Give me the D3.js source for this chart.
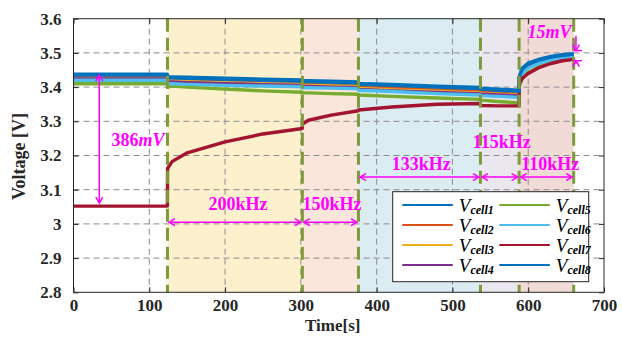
<!DOCTYPE html>
<html>
<head>
<meta charset="utf-8">
<script src="https://cdn.jsdelivr.net/npm/d3@7"></script>
<style>
  html, body { margin: 0; padding: 0; background: #fff; }
  svg { display: block; }
  text { font-family: "Liberation Serif", "Times New Roman", serif; }
</style>
</head>
<body>
<svg id="chart" width="622" height="339"></svg>
<script>
// ---- data -------------------------------------------------------------
const timeS = [0, 123.9, 124.1, 130, 150, 200, 250, 301.9, 302.1, 310, 340, 375.9, 376.1, 420, 480, 536.9, 537.1, 560, 587.9, 588.1, 592, 600, 615, 630, 645, 660];

const vCell1 = [3.438, 3.438, 3.430, 3.430, 3.429, 3.426, 3.423, 3.421, 3.419, 3.419, 3.417, 3.415, 3.411, 3.408, 3.403, 3.399, 3.397, 3.394, 3.391, 3.430, 3.455, 3.470, 3.482, 3.490, 3.495, 3.498];
const vCell2 = [3.429, 3.429, 3.423, 3.423, 3.421, 3.418, 3.415, 3.413, 3.410, 3.410, 3.408, 3.406, 3.401, 3.397, 3.392, 3.387, 3.386, 3.384, 3.381, 3.424, 3.449, 3.464, 3.476, 3.484, 3.489, 3.492];
const vCell3 = [3.426, 3.426, 3.418, 3.418, 3.416, 3.413, 3.410, 3.408, 3.405, 3.405, 3.403, 3.401, 3.396, 3.392, 3.387, 3.382, 3.381, 3.379, 3.376, 3.420, 3.446, 3.461, 3.474, 3.482, 3.487, 3.490];
const vCell4 = [3.424, 3.424, 3.415, 3.415, 3.413, 3.410, 3.407, 3.405, 3.402, 3.402, 3.400, 3.398, 3.393, 3.389, 3.384, 3.380, 3.379, 3.377, 3.374, 3.418, 3.444, 3.459, 3.472, 3.481, 3.486, 3.489];
const vCell5 = [3.410, 3.410, 3.400, 3.403, 3.400, 3.394, 3.389, 3.385, 3.383, 3.383, 3.381, 3.379, 3.377, 3.373, 3.368, 3.364, 3.362, 3.358, 3.354, 3.400, 3.425, 3.443, 3.460, 3.471, 3.478, 3.482];
const vCell6 = [3.420, 3.420, 3.410, 3.410, 3.408, 3.405, 3.403, 3.401, 3.398, 3.398, 3.397, 3.395, 3.391, 3.387, 3.381, 3.377, 3.375, 3.373, 3.370, 3.414, 3.440, 3.456, 3.470, 3.479, 3.484, 3.487];
const vCell7 = [3.052, 3.052, 3.162, 3.182, 3.208, 3.240, 3.263, 3.279, 3.292, 3.303, 3.318, 3.331, 3.333, 3.342, 3.350, 3.352, 3.346, 3.345, 3.345, 3.410, 3.425, 3.440, 3.458, 3.469, 3.477, 3.481];
const vCell8 = [3.435, 3.435, 3.427, 3.427, 3.426, 3.423, 3.420, 3.418, 3.416, 3.416, 3.414, 3.412, 3.408, 3.405, 3.400, 3.396, 3.394, 3.391, 3.388, 3.428, 3.453, 3.468, 3.480, 3.488, 3.493, 3.496];

const seriesNames  = ["cell1", "cell2", "cell3", "cell4", "cell5", "cell6", "cell7", "cell8"];
const seriesValues = [vCell1, vCell2, vCell3, vCell4, vCell5, vCell6, vCell7, vCell8];
const seriesColors = ["#0072BD", "#D95319", "#EDB120", "#7E2F8E", "#77AC30", "#4DBEEE", "#A2142F", "#0072BD"];

// switching-frequency stages (boundaries in seconds) and their labels
const stageEdges  = [124, 302, 376, 537, 588, 660];
const stageLabels = ["200kHz", "150kHz", "133kHz", "115kHz", "110kHz"];
const stageFills  = ["#fdf0cc", "#fae6da", "#dbecf3", "#ebe7ef", "#f1dbd7"];
// label anchor [time, voltage] and arrow level per stage
const stageLabelPos = [[217, 3.040], [341, 3.040], [459, 3.157], [565, 3.222], [629, 3.157]];
const stageArrowV   = [3.005, 3.005, 3.137, 3.137, 3.137];

const xTicks = [0, 100, 200, 300, 400, 500, 600, 700];
const yTicks = [2.8, 2.9, 3.0, 3.1, 3.2, 3.3, 3.4, 3.5, 3.6];
const yTickLabels = ["2.8", "2.9", "3", "3.1", "3.2", "3.3", "3.4", "3.5", "3.6"];

// ---- layout -----------------------------------------------------------
const svg = d3.select("#chart");
const L = 73.5, R = 604, T = 18.7, B = 292.3;
const x = d3.scaleLinear().domain([0, 700]).range([L, R]);
const y = d3.scaleLinear().domain([2.8, 3.6]).range([B, T]);
const MAG = "#ff00ff";
const SERIF = "Liberation Serif, Times New Roman, serif";

// stage shading
const bands = svg.append("g");
stageLabels.forEach((lab, i) => {
  bands.append("rect")
    .attr("x", x(stageEdges[i])).attr("y", T)
    .attr("width", x(stageEdges[i + 1]) - x(stageEdges[i]))
    .attr("height", B - T)
    .attr("fill", stageFills[i]);
});

// grid
const grid = svg.append("g").attr("stroke", "#8c8c8c").attr("stroke-width", 1)
  .attr("stroke-dasharray", "6,4").attr("fill", "none");
xTicks.slice(1, -1).forEach(t => grid.append("line")
  .attr("x1", x(t)).attr("x2", x(t)).attr("y1", T).attr("y2", B));
yTicks.slice(1, -1).forEach(v => grid.append("line")
  .attr("x1", L).attr("x2", R).attr("y1", y(v)).attr("y2", y(v)));

// axes with inward ticks
const xAxis = svg.append("g").attr("transform", `translate(0,${B})`)
  .call(d3.axisBottom(x).tickValues(xTicks).tickSizeInner(-5).tickSizeOuter(0).tickPadding(7));
const yAxis = svg.append("g").attr("transform", `translate(${L},0)`)
  .call(d3.axisLeft(y).tickValues(yTicks).tickFormat((d, i) => yTickLabels[i])
    .tickSizeInner(-5).tickSizeOuter(0).tickPadding(12));
svg.append("g").attr("transform", `translate(0,${T})`)
  .call(d3.axisTop(x).tickValues(xTicks).tickSizeInner(-5).tickSizeOuter(0).tickFormat(""));
svg.append("g").attr("transform", `translate(${R},0)`)
  .call(d3.axisRight(y).tickValues(yTicks).tickSizeInner(-5).tickSizeOuter(0).tickFormat(""));
svg.selectAll(".domain").remove();
svg.selectAll(".tick line").attr("stroke", "#262626");
[xAxis, yAxis].forEach(a => a.selectAll("text")
  .style("font-family", SERIF)
  .attr("font-size", 17).attr("font-weight", "bold").attr("fill", "#262626"));

// data lines
const line = d3.line().x((d, i) => x(timeS[i])).y(d => y(d));
const lines = svg.append("g").attr("fill", "none").attr("stroke-width", 3.4)
  .attr("stroke-linejoin", "round");
seriesValues.forEach((vals, k) => {
  lines.append("path").datum(vals).attr("d", line).attr("stroke", seriesColors[k]);
});

// stage boundaries
const bounds = svg.append("g").attr("stroke", "#7f9a3d").attr("stroke-width", 3)
  .attr("stroke-dasharray", "13,6");
stageEdges.forEach(t => bounds.append("line")
  .attr("x1", x(t)).attr("x2", x(t)).attr("y1", T).attr("y2", B));

// frame
svg.append("rect").attr("x", L).attr("y", T).attr("width", R - L).attr("height", B - T)
  .attr("fill", "none").attr("stroke", "#262626").attr("stroke-width", 1);

// ---- annotations ------------------------------------------------------
const ann = svg.append("g").attr("stroke", MAG).attr("stroke-width", 1.5).attr("fill", "none");
function head(px, py, dx, dy) {
  // open arrowhead with its tip at (px,py), pointing along (dx,dy)
  const s = 6, w = 3.5, nx = -dy, ny = dx;
  ann.append("path").attr("d",
    `M${px - dx * s + nx * w},${py - dy * s + ny * w}L${px},${py}L${px - dx * s - nx * w},${py - dy * s - ny * w}`);
}
function hArrow(t0, t1, v) {
  const x0 = x(t0) + 1.5, x1 = x(t1) - 1.5, yy = y(v);
  ann.append("line").attr("x1", x0).attr("x2", x1).attr("y1", yy).attr("y2", yy);
  head(x0, yy, -1, 0);
  head(x1, yy, 1, 0);
}
stageLabels.forEach((lab, i) => {
  hArrow(stageEdges[i], stageEdges[i + 1], stageArrowV[i]);
  svg.append("text").attr("x", x(stageLabelPos[i][0])).attr("y", y(stageLabelPos[i][1]))
    .attr("text-anchor", "middle").attr("font-size", 18).attr("font-weight", "bold")
    .attr("fill", MAG).text(lab);
});

// 386 mV step between the pack and cell 7 before balancing
const tGap = 34;
const yTop = y(vCell1[0]) + 1, yBot = y(vCell7[0]) - 3;
ann.append("line").attr("x1", x(tGap)).attr("x2", x(tGap)).attr("y1", yTop).attr("y2", yBot);
head(x(tGap), yTop, 0, -1);
head(x(tGap), yBot, 0, 1);
const t386 = svg.append("text").attr("x", x(85)).attr("y", y(3.227))
  .attr("text-anchor", "middle").attr("font-size", 18).attr("font-weight", "bold").attr("fill", MAG);
t386.append("tspan").text(Math.round((vCell1[0] - vCell7[0]) * 1000));
t386.append("tspan").attr("font-style", "italic").text("mV");

// final spread between highest and lowest cell
const nEnd = timeS.length - 1;
const vHi = d3.max(seriesValues, s => s[nEnd]);
const vLo = vHi - 0.015;
const xS = x(663), yHi = y(vHi) - 3, yLo = y(vLo) + 2;
ann.append("line").attr("x1", xS).attr("x2", xS).attr("y1", y(3.55)).attr("y2", yHi);
ann.append("line").attr("x1", xS).attr("x2", xS).attr("y1", y(3.468)).attr("y2", yLo);
ann.append("line").attr("x1", xS - 3).attr("x2", xS + 6).attr("y1", yHi).attr("y2", yHi);
ann.append("line").attr("x1", xS - 3).attr("x2", xS + 6).attr("y1", yLo).attr("y2", yLo);
head(xS, yHi, 0, 1);
head(xS, yLo, 0, -1);
svg.append("text").attr("x", x(628)).attr("y", y(3.543)).attr("text-anchor", "middle")
  .attr("font-size", 18).attr("font-weight", "bold").attr("font-style", "italic")
  .attr("fill", MAG).text(Math.round((vHi - vLo) * 1000) + "mV");

// ---- legend -----------------------------------------------------------
const lg = svg.append("g");
lg.append("rect").attr("x", 392.7).attr("y", 191.7).attr("width", 196).attr("height", 90)
  .attr("fill", "#fff").attr("stroke", "#262626").attr("stroke-width", 1);
seriesNames.forEach((nm, k) => {
  const col = Math.floor(k / 4), row = k % 4;
  const lx = 402.3 + col * 97, ly = 205 + row * 20;
  lg.append("line").attr("x1", lx).attr("x2", lx + 50.5).attr("y1", ly).attr("y2", ly)
    .attr("stroke", seriesColors[k]).attr("stroke-width", 2.2);
  const tx = lg.append("text").attr("x", lx + 56.5).attr("y", ly + 6.5)
    .attr("font-size", 19).attr("font-style", "italic").attr("fill", "#000");
  tx.append("tspan").text("V");
  tx.append("tspan").attr("font-size", 12).attr("font-weight", "bold").attr("dy", 2.5).text(nm);
});

// axis titles
svg.append("text").attr("x", x(350) - 6).attr("y", 331).attr("text-anchor", "middle")
  .attr("font-size", 17).attr("font-weight", "bold").attr("fill", "#262626").text("Time[s]");
svg.append("text").attr("transform", `translate(25,${(T + B) / 2 + 1}) rotate(-90)`)
  .attr("text-anchor", "middle").attr("font-size", 18).attr("font-weight", "bold")
  .attr("fill", "#262626").text("Voltage [V]");
</script>
</body>
</html>
